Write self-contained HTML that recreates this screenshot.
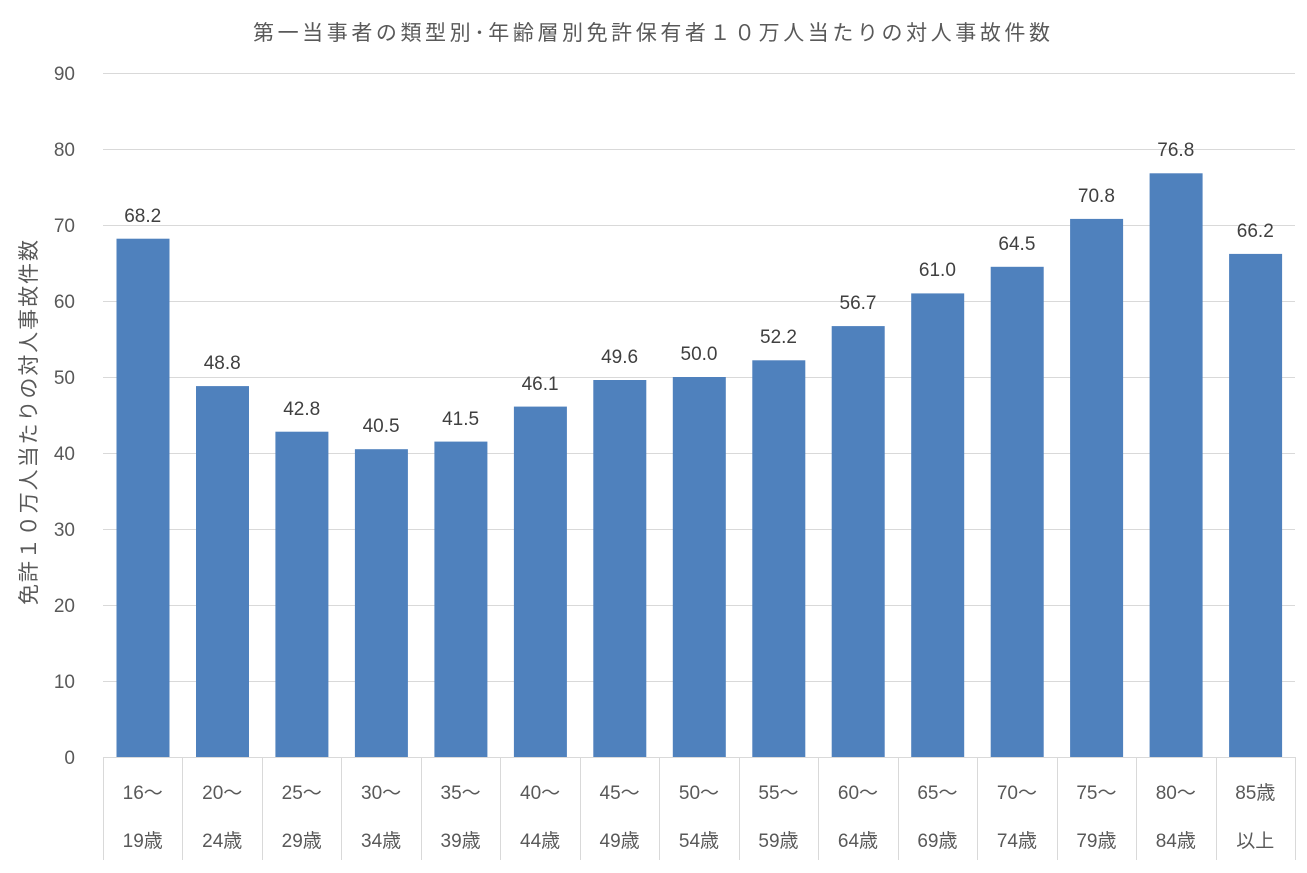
<!DOCTYPE html>
<html><head><meta charset="utf-8"><style>
body{margin:0;background:#fff;}
svg text{font-family:"Liberation Sans","Noto Sans CJK JP",sans-serif;}
</style></head><body>
<svg width="1307" height="868" xmlns="http://www.w3.org/2000/svg">
<rect width="1307" height="868" fill="#fff"/>
<text x="253" y="40" font-size="21" fill="#595959" textLength="797" lengthAdjust="spacing">第一当事者の類型別･年齢層別免許保有者１０万人当たりの対人事故件数</text>
<g stroke="#d9d9d9" stroke-width="1">
<line x1="103" x2="1295" y1="73.5" y2="73.5"/><line x1="103" x2="1295" y1="149.5" y2="149.5"/>
<line x1="103" x2="1295" y1="225.5" y2="225.5"/><line x1="103" x2="1295" y1="301.5" y2="301.5"/>
<line x1="103" x2="1295" y1="377.5" y2="377.5"/><line x1="103" x2="1295" y1="453.5" y2="453.5"/>
<line x1="103" x2="1295" y1="529.5" y2="529.5"/><line x1="103" x2="1295" y1="605.5" y2="605.5"/>
<line x1="103" x2="1295" y1="681.5" y2="681.5"/><line x1="103" x2="1295" y1="757.5" y2="757.5"/>
<line x1="103.5" x2="103.5" y1="757" y2="860"/><line x1="182.5" x2="182.5" y1="757" y2="860"/>
<line x1="262.5" x2="262.5" y1="757" y2="860"/><line x1="341.5" x2="341.5" y1="757" y2="860"/>
<line x1="421.5" x2="421.5" y1="757" y2="860"/><line x1="500.5" x2="500.5" y1="757" y2="860"/>
<line x1="580.5" x2="580.5" y1="757" y2="860"/><line x1="659.5" x2="659.5" y1="757" y2="860"/>
<line x1="739.5" x2="739.5" y1="757" y2="860"/><line x1="818.5" x2="818.5" y1="757" y2="860"/>
<line x1="898.5" x2="898.5" y1="757" y2="860"/><line x1="977.5" x2="977.5" y1="757" y2="860"/>
<line x1="1057.5" x2="1057.5" y1="757" y2="860"/><line x1="1136.5" x2="1136.5" y1="757" y2="860"/>
<line x1="1216.5" x2="1216.5" y1="757" y2="860"/><line x1="1295.5" x2="1295.5" y1="757" y2="860"/>
</g>
<g font-size="19" fill="#595959" text-anchor="end">
<text x="75" y="80">90</text><text x="75" y="156">80</text><text x="75" y="232">70</text>
<text x="75" y="308">60</text><text x="75" y="384">50</text><text x="75" y="460">40</text>
<text x="75" y="536">30</text><text x="75" y="612">20</text><text x="75" y="688">10</text>
<text x="75" y="764">0</text>
</g>
<text transform="translate(36,605) rotate(-90)" font-size="21" fill="#595959" textLength="365" lengthAdjust="spacing">免許１０万人当たりの対人事故件数</text>
<g fill="#4f81bd">
<rect x="116.5" y="238.7" width="53" height="518.3"/>
<rect x="196" y="386.1" width="53" height="370.9"/>
<rect x="275.4" y="431.7" width="53" height="325.3"/>
<rect x="354.9" y="449.2" width="53" height="307.8"/>
<rect x="434.4" y="441.6" width="53" height="315.4"/>
<rect x="513.9" y="406.6" width="53" height="350.4"/>
<rect x="593.3" y="380" width="53" height="377"/>
<rect x="672.8" y="377" width="53" height="380"/>
<rect x="752.3" y="360.3" width="53" height="396.7"/>
<rect x="831.7" y="326.1" width="53" height="430.9"/>
<rect x="911.2" y="293.4" width="53" height="463.6"/>
<rect x="990.7" y="266.8" width="53" height="490.2"/>
<rect x="1070.1" y="218.9" width="53" height="538.1"/>
<rect x="1149.6" y="173.3" width="53" height="583.7"/>
<rect x="1229.1" y="253.9" width="53" height="503.1"/>
</g>
<g font-size="19" fill="#404040" text-anchor="middle">
<text x="142.7" y="222">68.2</text>
<text x="222.2" y="369">48.8</text>
<text x="301.7" y="415">42.8</text>
<text x="381.1" y="432">40.5</text>
<text x="460.6" y="425">41.5</text>
<text x="540.1" y="390">46.1</text>
<text x="619.6" y="363">49.6</text>
<text x="699" y="360">50.0</text>
<text x="778.5" y="343">52.2</text>
<text x="858" y="309">56.7</text>
<text x="937.4" y="276">61.0</text>
<text x="1016.9" y="250">64.5</text>
<text x="1096.4" y="202">70.8</text>
<text x="1175.8" y="156">76.8</text>
<text x="1255.3" y="237">66.2</text>
</g>
<g font-size="19" fill="#595959" text-anchor="middle">
<text x="142.7" y="799">16〜</text><text x="142.7" y="847">19歳</text>
<text x="222.2" y="799">20〜</text><text x="222.2" y="847">24歳</text>
<text x="301.7" y="799">25〜</text><text x="301.7" y="847">29歳</text>
<text x="381.1" y="799">30〜</text><text x="381.1" y="847">34歳</text>
<text x="460.6" y="799">35〜</text><text x="460.6" y="847">39歳</text>
<text x="540.1" y="799">40〜</text><text x="540.1" y="847">44歳</text>
<text x="619.6" y="799">45〜</text><text x="619.6" y="847">49歳</text>
<text x="699" y="799">50〜</text><text x="699" y="847">54歳</text>
<text x="778.5" y="799">55〜</text><text x="778.5" y="847">59歳</text>
<text x="858" y="799">60〜</text><text x="858" y="847">64歳</text>
<text x="937.4" y="799">65〜</text><text x="937.4" y="847">69歳</text>
<text x="1016.9" y="799">70〜</text><text x="1016.9" y="847">74歳</text>
<text x="1096.4" y="799">75〜</text><text x="1096.4" y="847">79歳</text>
<text x="1175.8" y="799">80〜</text><text x="1175.8" y="847">84歳</text>
<text x="1255.3" y="799">85歳</text><text x="1255.3" y="847">以上</text>
</g>
</svg>
</body></html>
